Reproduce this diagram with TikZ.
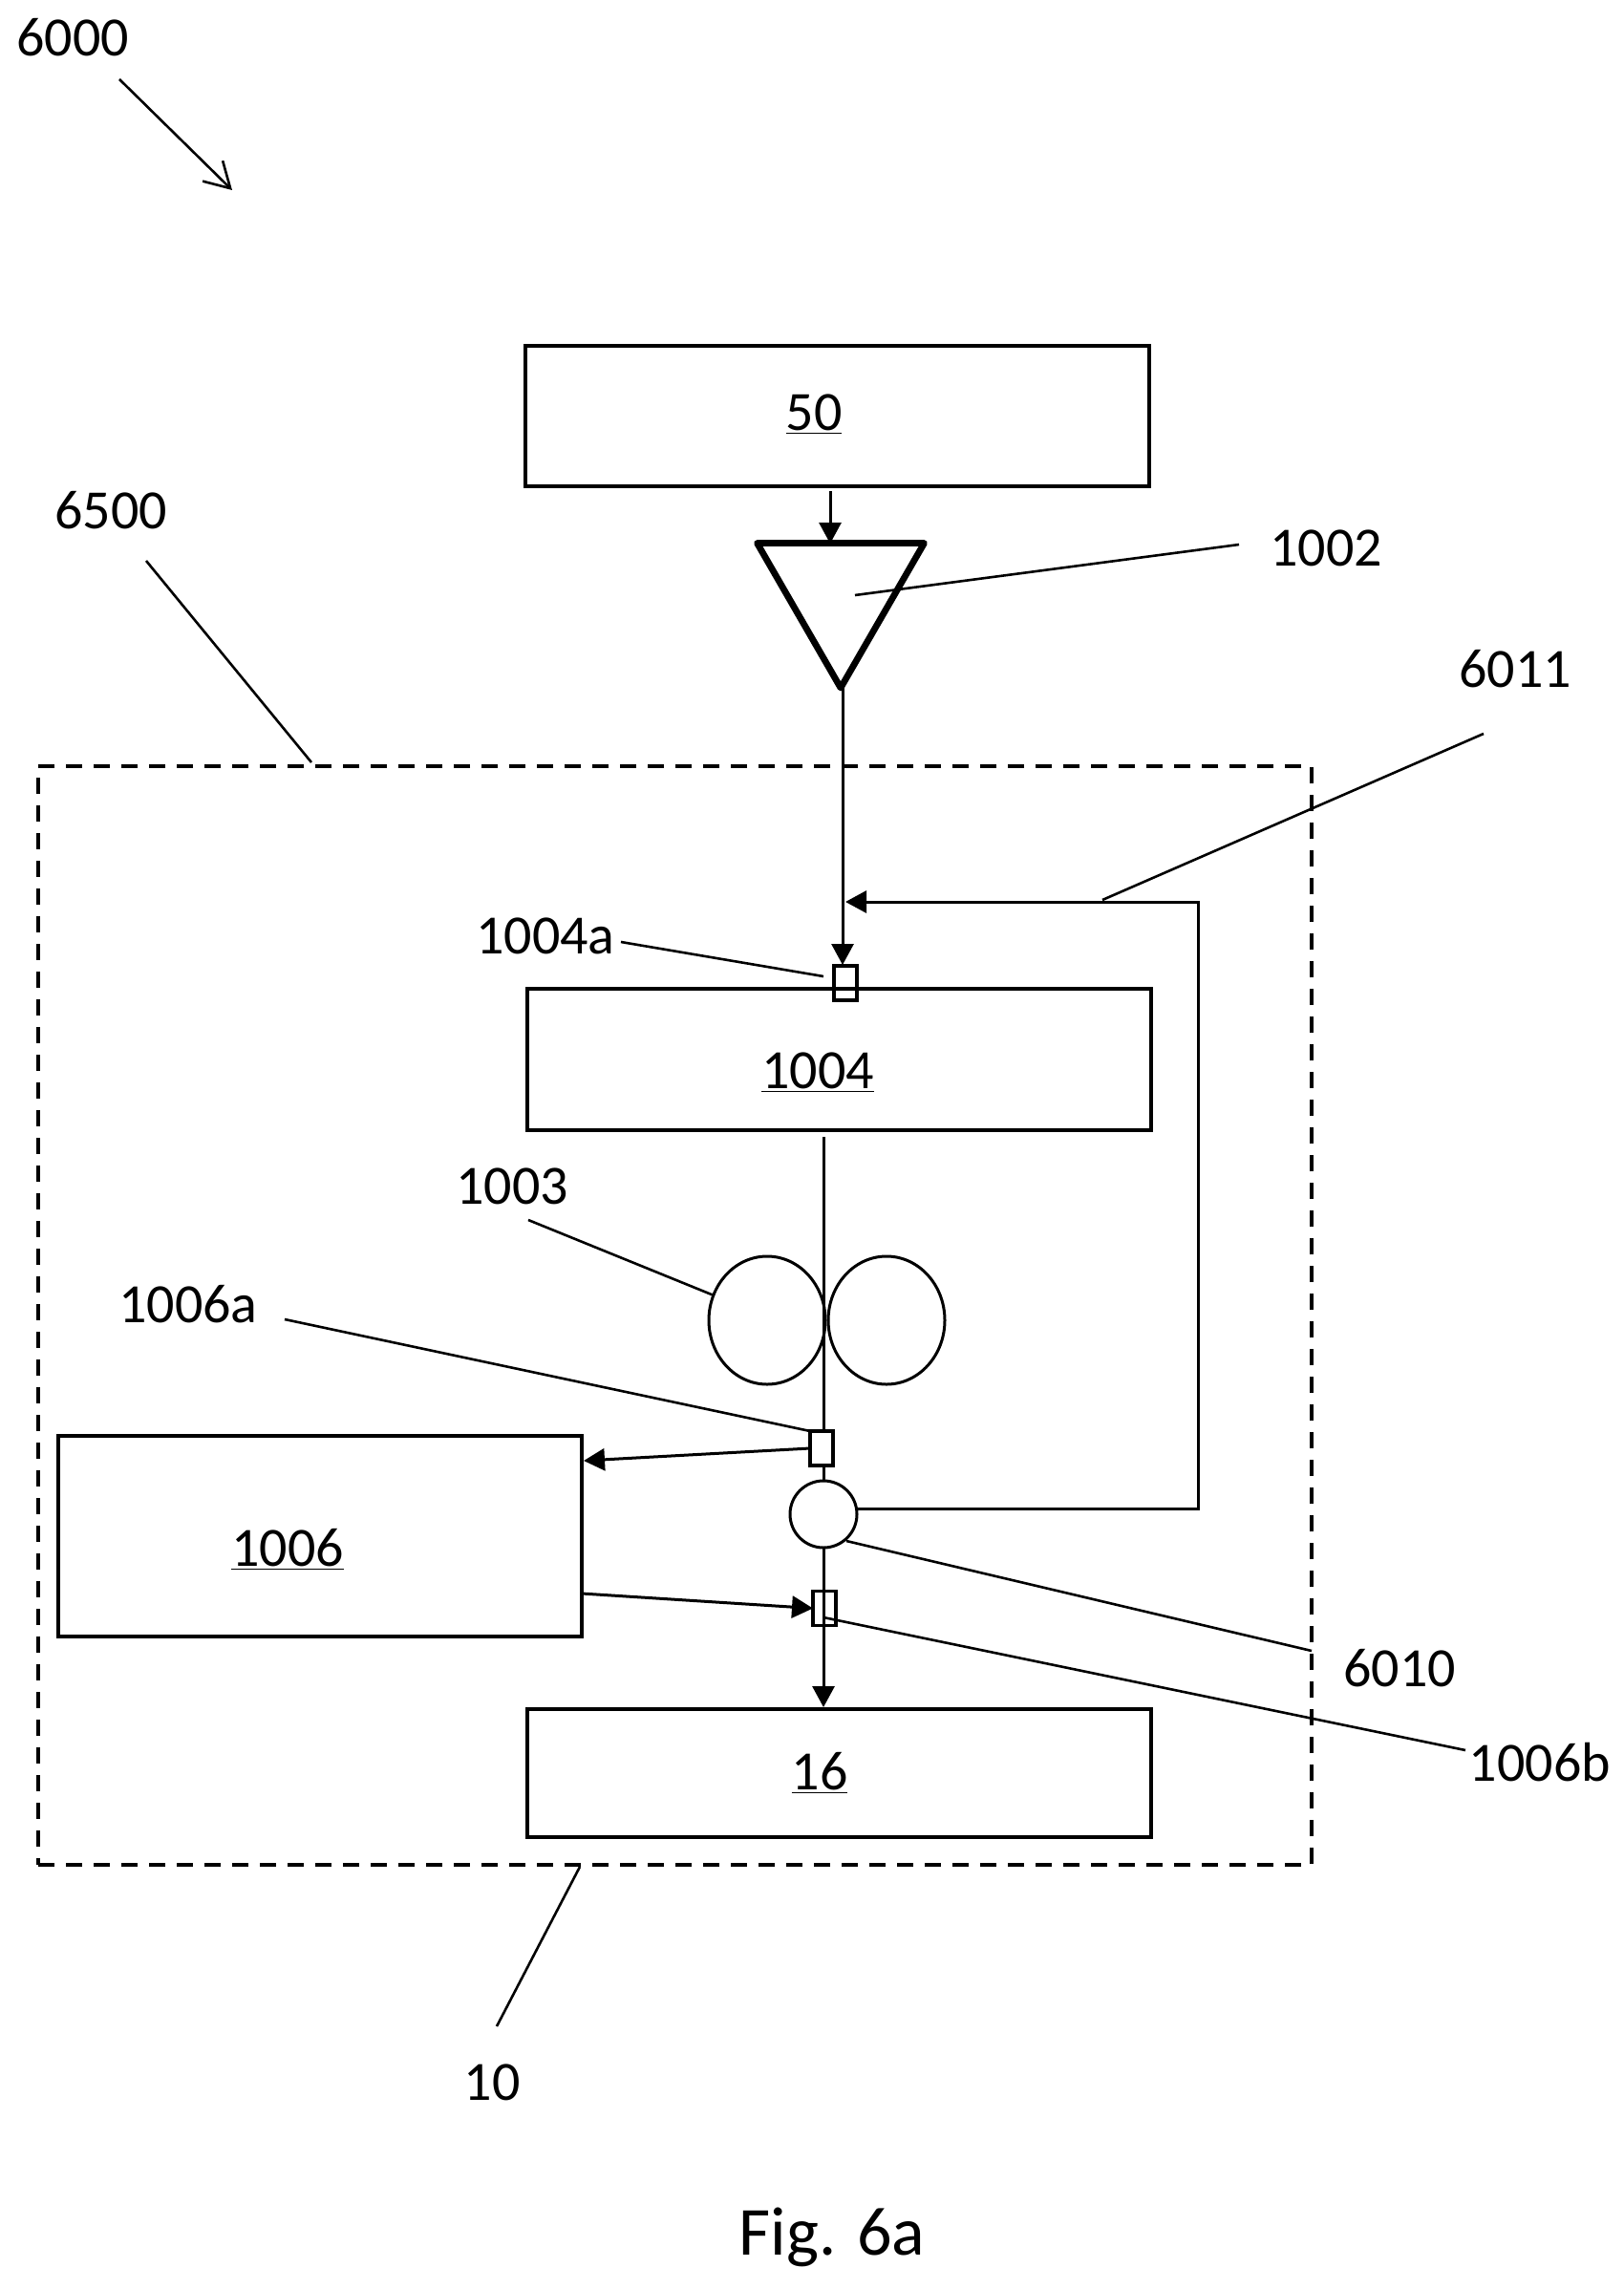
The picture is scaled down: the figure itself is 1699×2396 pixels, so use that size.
\documentclass[tikz,border=0pt]{standalone}
\usepackage{fontspec}
\setmainfont{Carlito}
\usetikzlibrary{arrows.meta,shapes.geometric}

\begin{document}
\begin{tikzpicture}[
    x=0.5pt,
    y=-0.5pt,
    > = {Triangle[length=11pt,width=11.5pt]},
    font=\fontsize{29}{32}\selectfont,
    block/.style={rectangle, draw, line width=1.9pt, inner sep=0pt, outer sep=0pt},
    port/.style={rectangle, draw, line width=1.6pt, inner sep=0pt, outer sep=0pt, minimum width=12pt, minimum height=18pt},
    roller/.style={ellipse, draw, line width=1.5pt, inner sep=0pt, outer sep=0pt, minimum width=61pt, minimum height=67pt},
    flow/.style={line width=1.5pt},
    leader/.style={line width=1.3pt},
    tag/.style={inner sep=0pt}
]
\useasboundingbox (0,0) rectangle (1699,2396);

% Blocks
\node[block, minimum width=326.5pt, minimum height=73.5pt] (source) at (876.5,435.5) {};
\node[tag] (sourcetag) at (852,434) {\underline{50}};
\node[block, minimum width=326.5pt, minimum height=74pt] (coat) at (878.5,1109) {};
\node[tag] (coattag) at (856,1123) {\underline{1004}};
\node[block, minimum width=274pt, minimum height=105pt] (sensor) at (335,1608) {};
\node[tag] (sensortag) at (301,1622) {\underline{1006}};
\node[block, minimum width=326.5pt, minimum height=67pt] (cure) at (878.5,1856) {};
\node[tag] (curetag) at (858,1856) {\underline{16}};

% Dashed outline
\node[rectangle, draw, dash pattern=on 8.5pt off 6pt, line width=1.9pt, inner sep=0pt, outer sep=0pt, minimum width=666.5pt, minimum height=575pt] (housing) at (706.5,1377) {};

% Funnel
\node[regular polygon, regular polygon sides=3, shape border rotate=180, draw, line width=3.4pt, line join=round, inner sep=0pt, outer sep=0pt, minimum size=101pt] (funnel) at (880,619) {};

% Ports, rollers and junction
\node[port] (portin) at (885,1029) {};
\node[port] (porta) at (860,1516) {};
\node[port] (portb) at (863,1683.5) {};
\node[roller] (rollerl) at (803,1382) {};
\node[roller] (rollerr) at (928,1382) {};
\node[circle, draw, line width=1.5pt, inner sep=0pt, outer sep=0pt, minimum size=35pt] (junction) at (862,1585) {};

% Free ends
\coordinate (srcout) at (869,514);
\coordinate (funin) at (869,569);
\coordinate (merge) at (885,944);
\coordinate (corner1) at (1254,944);
\coordinate (corner2) at (1254,1579);
\coordinate (loopout) at (896,1579);
\coordinate (funout) at (882,718);
\coordinate (portinin) at (882,1010);
\coordinate (linetop) at (862,1190);
\coordinate (linea) at (862,1498);
\coordinate (linec) at (862,1534);
\coordinate (linef) at (862,1665);
\coordinate (lineg) at (862,1787);
\coordinate (senstop) at (611,1529);
\coordinate (sensbot) at (609,1668);

% Flow
\draw[flow, ->] (funout) -- (portinin);
\draw[flow, ->] (srcout) -- (funin);
\draw[flow, ->] (loopout) -- (corner2) -- (corner1) -- (merge);
\draw[flow] (linetop) -- (linea);
\draw[flow] (linec) -- (junction.north);
\draw[flow] (junction.south) -- (linef);
\draw[flow, ->] (linef) -- (lineg);
\draw[flow, ->] (porta.west) -- (senstop);
\draw[flow, ->] (sensbot) -- (portb.west);

% Reference numerals
\node[tag] (n6000) at (76,39) {6000};
\node[tag] (n6500) at (116,534) {6500};
\node[tag] (n1002) at (1388,574) {1002};
\node[tag] (n6011) at (1586,700) {6011};
\node[tag] (n1004a) at (571,980) {1004a};
\node[tag] (n1003) at (536,1242) {1003};
\node[tag] (n1006a) at (197,1365) {1006a};
\node[tag] (n6010) at (1465,1746) {6010};
\node[tag] (n1006b) at (1612,1845) {1006b};
\node[tag] (n10) at (515,2180) {10};
\node[tag, font=\fontsize{36}{40}\selectfont] (figtag) at (871,2342) {Fig. 6a};

% Leaders
\coordinate (a6000) at (125,83);
\coordinate (b6000) at (243,199);
\draw[leader, -{Straight Barb[length=13pt,width=15pt]}] (a6000) -- (b6000);
\draw[leader] (153,587) -- (326,798);
\draw[leader] (895,623) -- (1297,570);
\draw[leader] (1553,768) -- (1154,942);
\draw[leader] (650,986) -- (862,1022);
\draw[leader] (553,1277) -- (rollerl.155);
\draw[leader] (298,1381) -- (porta.north west);
\draw[leader] (886,1613) -- (1373,1728);
\draw[leader] (862,1693) -- (1534,1832);
\draw[leader] (520,2121) -- (607,1954);

\end{tikzpicture}
\end{document}
